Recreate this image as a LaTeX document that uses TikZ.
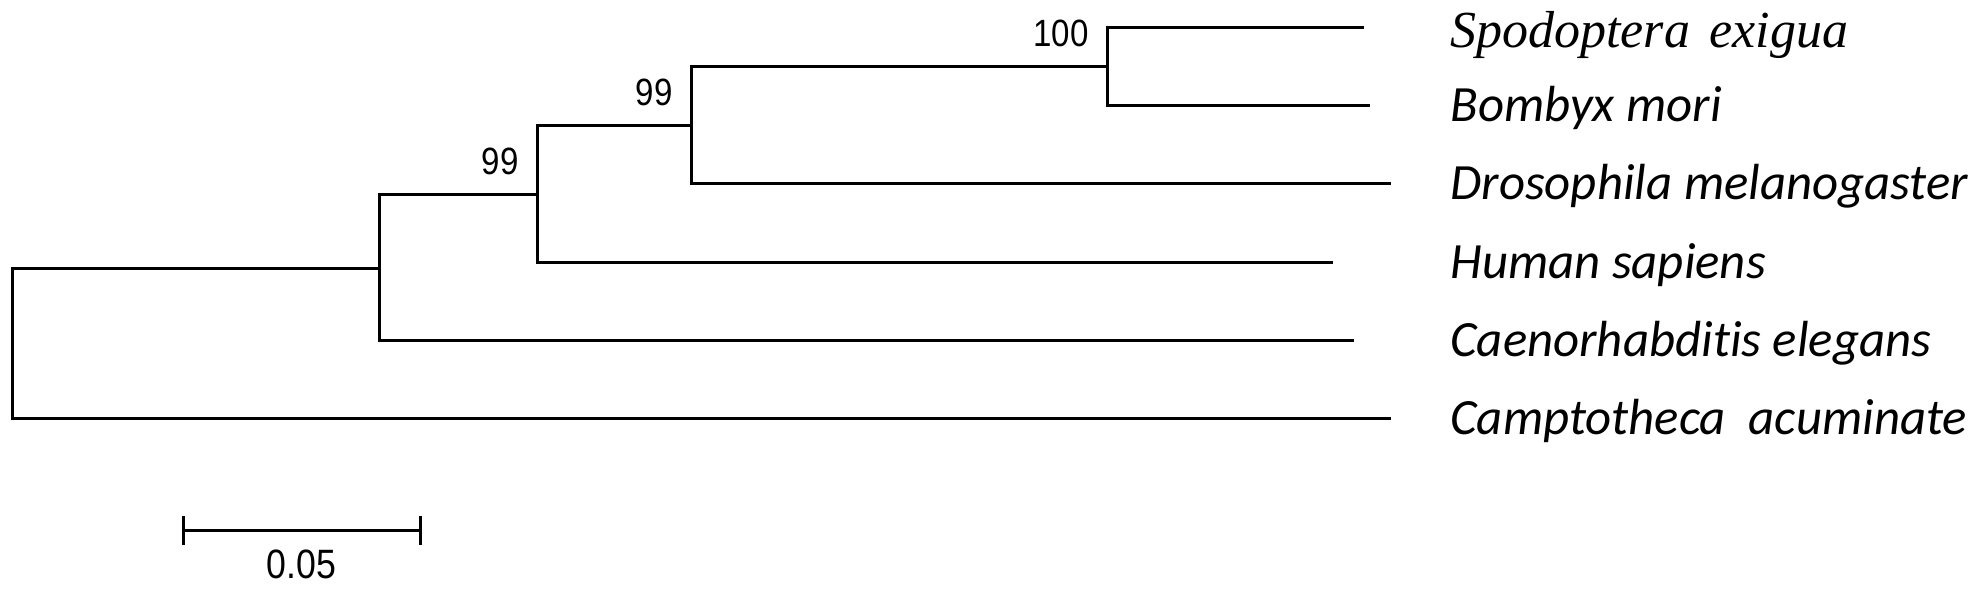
\documentclass[tikz,border=0pt]{standalone}
\usepackage{fontspec}
\setmainfont[Ligatures=NoCommon]{Carlito}
\newfontfamily\serifit{Liberation Serif}
\newfontfamily\pixfont[FakeStretch=0.87]{Liberation Sans}
\usetikzlibrary{positioning}

\begin{document}
\begin{tikzpicture}[
    x=0.5pt,y=-0.5pt,
    branch/.style={line width=1.5pt, draw=black},
    taxon/.style={anchor=base west, inner sep=0pt,
        font=\fontsize{25.4}{30}\selectfont\itshape},
    boot/.style={inner sep=0pt, font=\pixfont\fontsize{19}{22}\selectfont},
    scalelab/.style={inner sep=0pt, font=\pixfont\fontsize{20.5}{24}\selectfont},
    node distance=9.5pt and 9pt
]
    \useasboundingbox (0,0) rectangle (1981,590);

    % inner nodes
    \coordinate (root) at (12,343);
    \coordinate (nA) at (379,268);
    \coordinate (nB) at (537,194);
    \coordinate (nC) at (691,125);
    \coordinate (nD) at (1107,66);

    % tips
    \coordinate (tSpo) at (1364,27);
    \coordinate (tBom) at (1370,105);
    \coordinate (tDro) at (1391,183);
    \coordinate (tHum) at (1333,262);
    \coordinate (tCae) at (1354,340);
    \coordinate (tCam) at (1391,418);

    \draw[branch] (nD) |- (tSpo);
    \draw[branch] (nD) |- (tBom);
    \draw[branch] (nC) |- (nD);
    \draw[branch] (nC) |- (tDro);
    \draw[branch] (nB) |- (nC);
    \draw[branch] (nB) |- (tHum);
    \draw[branch] (nA) |- (nB);
    \draw[branch] (nA) |- (tCae);
    \draw[branch] (root) |- (nA);
    \draw[branch] (root) |- (tCam);

    % bootstrap values
    \node[boot, above left=of nD] (bD) {100};
    \node[boot, above left=of nC] (bC) {99};
    \node[boot, above left=of nB] (bB) {99};

    % species
    \node[taxon, font=\fontsize{26}{30}\selectfont\serifit\itshape] (lSpo) at (1450,47) {Spodoptera\hspace{0.12em} exigua};
    \node[taxon] (lBom) at (1450,121) {Bombyx mori};
    \node[taxon] (lDro) at (1450,199) {Drosophila melanogaster};
    \node[taxon] (lHum) at (1450,278) {Human sapiens};
    \node[taxon] (lCae) at (1450,356) {Caenorhabditis elegans};
    \node[taxon] (lCam) at (1450,434) {Camptotheca\ \ acuminate};

    % scale bar
    \coordinate (sbL) at (183,530);
    \coordinate (sbR) at (420,530);
    \draw[branch] (sbL) -- node[scalelab, below=9pt] (sbText) {0.05} (sbR);
    \draw[branch] ([yshift=7.25pt]sbL) -- ([yshift=-7.25pt]sbL);
    \draw[branch] ([yshift=7.25pt]sbR) -- ([yshift=-7.25pt]sbR);

\end{tikzpicture}
\end{document}
